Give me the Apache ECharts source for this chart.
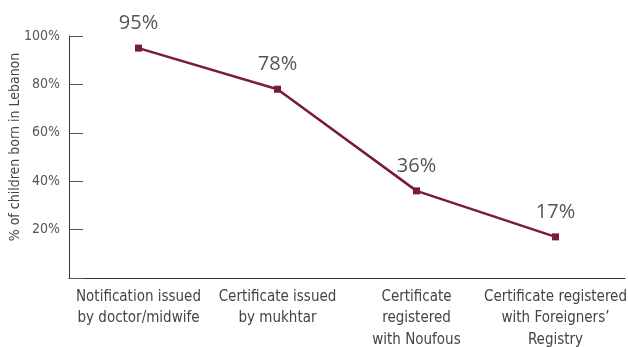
<!DOCTYPE html>
<html><head><meta charset="utf-8">
<script src="https://cdn.jsdelivr.net/npm/echarts@6/dist/echarts.min.js"></script>
<style>html,body{margin:0;padding:0;background:#fff}#c{width:628px;height:347px}</style>
</head><body><div id="c"></div>
<script>
const categories = ['Notification issued\nby doctor/midwife', 'Certificate issued\nby mukhtar', 'Certificate\nregistered\nwith Noufous', 'Certificate registered\nwith Foreigners\u2019\nRegistry'];
const values = [95, 78, 36, 17];
const yTicks = [0, 20, 40, 60, 80, 100];
const yName = '% of children born in Lebanon';
const FONT = '"DejaVu Sans Condensed", "Open Sans", sans-serif';
const chart = echarts.init(document.getElementById('c'), null, {renderer: 'canvas'});
chart.setOption({
  animation: false,
  grid: {left: 69, right: 3, top: 36, bottom: 69, containLabel: false, outerBoundsMode: 'none'},
  xAxis: {
    type: 'category', data: categories, boundaryGap: true,
    axisLine: {lineStyle: {color: '#333', width: 1}},
    axisTick: {inside: true, length: 4, alignWithLabel: false, interval: 0, lineStyle: {color: '#333'}},
    axisLabel: {interval: 0, color: '#444', fontFamily: FONT, fontSize: 15, lineHeight: 21.5, margin: 8}
  },
  yAxis: {
    type: 'value', min: yTicks[0], max: yTicks[yTicks.length - 1], interval: 20,
    name: yName, nameLocation: 'middle', nameGap: 47, nameRotate: 90, nameMoveOverlap: false,
    nameTextStyle: {color: '#444', fontFamily: FONT, fontSize: 14, padding: [0, 0, 0, 20]},
    axisLine: {show: true, lineStyle: {color: '#333', width: 1}},
    axisTick: {show: true, inside: true, length: 14, lineStyle: {color: '#555', width: 1}},
    splitLine: {show: false},
    axisLabel: {color: '#555', fontFamily: FONT, fontSize: 14, margin: 9,
      formatter: v => v === 0 ? '' : v + '%'}
  },
  series: [{
    type: 'line', data: values,
    symbol: 'rect', symbolSize: 7,
    lineStyle: {color: '#7a1b3c', width: 2.5},
    itemStyle: {color: '#7a1b3c'},
    label: {show: true, position: 'top', distance: 11, formatter: p => p.value + '%',
      color: '#555', fontFamily: '"Open Sans", sans-serif', fontSize: 20}
  }]
});
</script></body></html>
